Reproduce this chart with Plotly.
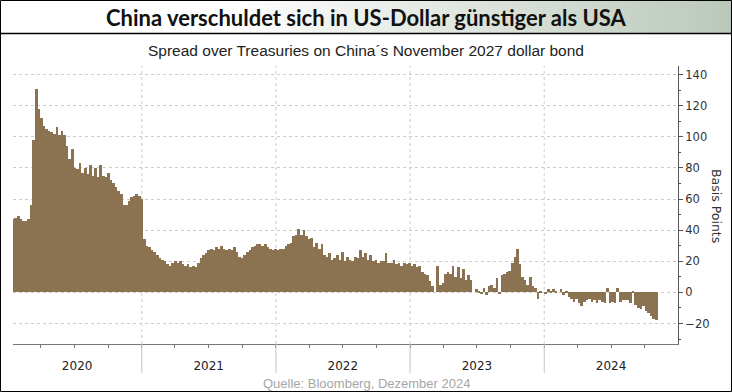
import plotly.graph_objects as go
import pandas as pd

# ---------------- data (weekly) ----------------
start_date = "2020-01-17"
spread_2020 = [47, 48, 49, 47, 46, 46, 47, 56, 98, 131, 118, 112, 107, 105, 104, 103, 102, 106,
               101, 104, 101, 94, 86, 92, 80, 79, 83, 77, 80, 76, 82, 75, 80, 74, 82, 75, 74, 77,
               72, 70, 68, 65, 63, 56, 56, 59, 61, 62, 63, 62, 60]
spread_2021 = [34, 30, 29, 27, 26, 24, 22, 21, 20, 18, 17, 19, 20, 19, 20, 18, 17, 18, 16, 17,
               16, 19, 22, 24, 25, 27, 28, 27, 29, 28, 30, 28, 27, 28, 27, 29, 26, 23, 22, 24,
               26, 27, 29, 30, 31, 31, 30, 31, 29, 28, 27, 28]
spread_2022 = [27, 28, 28, 30, 31, 32, 36, 37, 41, 37, 40, 36, 34, 35, 29, 32, 28, 31, 24, 23,
               25, 21, 22, 24, 21, 26, 20, 23, 21, 20, 23, 22, 27, 23, 25, 21, 24, 20, 21, 19,
               20, 20, 25, 19, 19, 21, 18, 19, 17, 19, 18, 19]
spread_2023 = [17, 18, 16, 17, 13, 12, 11, 7, 4, 0, 17, 5, 6, 12, 13, 12, 17, 10, 16, 9,
               15, 8, 11, 8, 0, 2, 1, -1, 3, -2, 4, 5, 3, 9, -1, 11, 12, 13, 14, 19,
               23, 28, 18, 10, 8, 5, 10, 4, 3, -4, 1, 0]
spread_2024 = [-1, 2, 1, 2, 1, 0, 2, -2, 1, -3, -4, -6, -4, -7, -9, -6, -5, -4, -6, -5,
               -7, -5, -6, -7, 3, -7, -6, -7, 3, -6, -5, -5, -5, -7, 1, -8, -10, -11, -9, -12,
               -13, -15, -17, -18]
spread = spread_2020 + spread_2021 + spread_2022 + spread_2023 + spread_2024
dates = pd.date_range(start_date, periods=len(spread), freq="7D")

year_labels = ["2020", "2021", "2022", "2023", "2024"]
year_label_pos = ["2020-07-09", "2021-07-02", "2022-07-02", "2023-07-02", "2024-07-01"]
year_starts = ["2021-01-01", "2022-01-01", "2023-01-01", "2024-01-01"]
quarter_ticks = [f"{y}-{m:02d}-01" for y in range(2020, 2025) for m in (1, 4, 7, 10)][1:]
y_ticks = [-20, 0, 20, 40, 60, 80, 100, 120, 140]

title = "China verschuldet sich in US-Dollar günstiger als USA"
subtitle = "Spread over Treasuries on China´s November 2027 dollar bond"
source = "Quelle: Bloomberg, Dezember 2024"
y_title = "Basis Points"

# ---------------- layout geometry ----------------
W, H = 732, 392
L, R, T, B = 13, 54, 66, 48
PW, PH = W - L - R, H - T - B
BAR = "#8b7352"


def px(x):
    return (x - L) / PW


def py(y):
    return (H - B - y) / PH


fig = go.Figure()
fig.add_trace(go.Bar(x=dates, y=spread, width=7 * 86400000,
                     marker=dict(color=BAR, line=dict(width=0)),
                     hoverinfo="x+y"))

shapes = []
# title bar gradient
n = 120
for i in range(n):
    x0 = i * W / n
    x1 = (i + 1) * W / n + 0.5
    xc = (x0 + x1) / 2
    t = max(0.0, (xc - 230) / (W - 230))
    c = tuple(int(round(255 * (1 - t) + v * t)) for v in (186, 200, 186))
    shapes.append(dict(type="rect", xref="paper", yref="paper",
                       x0=px(x0), x1=px(min(x1, W)), y0=py(33), y1=py(0),
                       fillcolor=f"rgb{c}", line=dict(width=0), layer="below"))
# title separator line
shapes.append(dict(type="line", xref="paper", yref="paper", x0=px(0), x1=px(W),
                   y0=py(33.5), y1=py(33.5), line=dict(color="#000000", width=1.5)))
# outer border
shapes.append(dict(type="rect", xref="paper", yref="paper", x0=px(0.5), x1=px(W - 0.5),
                   y0=py(H - 0.5), y1=py(0.5), line=dict(color="#000000", width=1),
                   fillcolor="rgba(0,0,0,0)"))
# year boundary lines
for d in year_starts:
    shapes.append(dict(type="line", xref="x", yref="paper", x0=d, x1=d, y0=0, y1=1,
                       line=dict(color="#cccccc", width=1, dash="dot"), layer="below"))
    shapes.append(dict(type="line", xref="x", yref="paper", x0=d, x1=d, y0=py(373), y1=0,
                       line=dict(color="#c4c4c4", width=1)))

annotations = [
    dict(text=f"<b>{title}</b>", x=px(W / 2), y=py(18), xref="paper", yref="paper",
         showarrow=False, xanchor="center", yanchor="middle",
         font=dict(family="Lato, Open Sans, sans-serif", size=22, color="#111111")),
    dict(text=subtitle, x=px(W / 2), y=py(51), xref="paper", yref="paper",
         showarrow=False, xanchor="center", yanchor="middle",
         font=dict(family="Liberation Sans, Arial, sans-serif", size=15.5, color="#222222")),
    dict(text=source, x=px(W / 2), y=py(383), xref="paper", yref="paper",
         showarrow=False, xanchor="center", yanchor="middle",
         font=dict(family="Liberation Sans Narrow, Liberation Sans, sans-serif", size=13,
                   color="#a6a6a6")),
    dict(text=y_title, x=px(717), y=py(206), xref="paper", yref="paper",
         showarrow=False, xanchor="center", yanchor="middle", textangle=90,
         font=dict(family="DejaVu Sans, Verdana, sans-serif", size=12.5, color="#333333")),
]

fig.update_layout(
    width=W, height=H,
    margin=dict(l=L, r=R, t=T, b=B, pad=0),
    paper_bgcolor="#ffffff", plot_bgcolor="#ffffff",
    showlegend=False, bargap=0,
    shapes=shapes, annotations=annotations,
    xaxis=dict(type="date", range=["2020-01-16 12:00", "2024-12-30"],
               tickmode="array", tickvals=year_label_pos, ticktext=year_labels,
               ticks="", showgrid=False, zeroline=False,
               showline=True, linecolor="#777777", linewidth=1,
               ticklabelstandoff=11,
               tickfont=dict(family="DejaVu Sans, Verdana, sans-serif", size=12, color="#222222"),
               minor=dict(tickmode="array", tickvals=quarter_ticks, ticks="outside",
                          ticklen=3, tickcolor="#777777", showgrid=False),
               fixedrange=True),
    yaxis=dict(side="right", range=[-33.2, 145.5], tickmode="array", tickvals=y_ticks,
               ticks="outside", ticklen=4, tickcolor="#555555",
               showline=True, linecolor="#555555", linewidth=1,
               showgrid=True, gridcolor="#cccccc", griddash="dot", gridwidth=1,
               zeroline=False,
               tickfont=dict(family="DejaVu Sans, Verdana, sans-serif", size=11.5, color="#333333"),
               minor=dict(dtick=10, tick0=0, ticks="outside", ticklen=2, tickcolor="#555555",
                          showgrid=False),
               fixedrange=True),
)

fig.write_html("out.html", config={"displayModeBar": False},
               post_script="document.body.style.margin='0';document.body.style.overflow='hidden';")
